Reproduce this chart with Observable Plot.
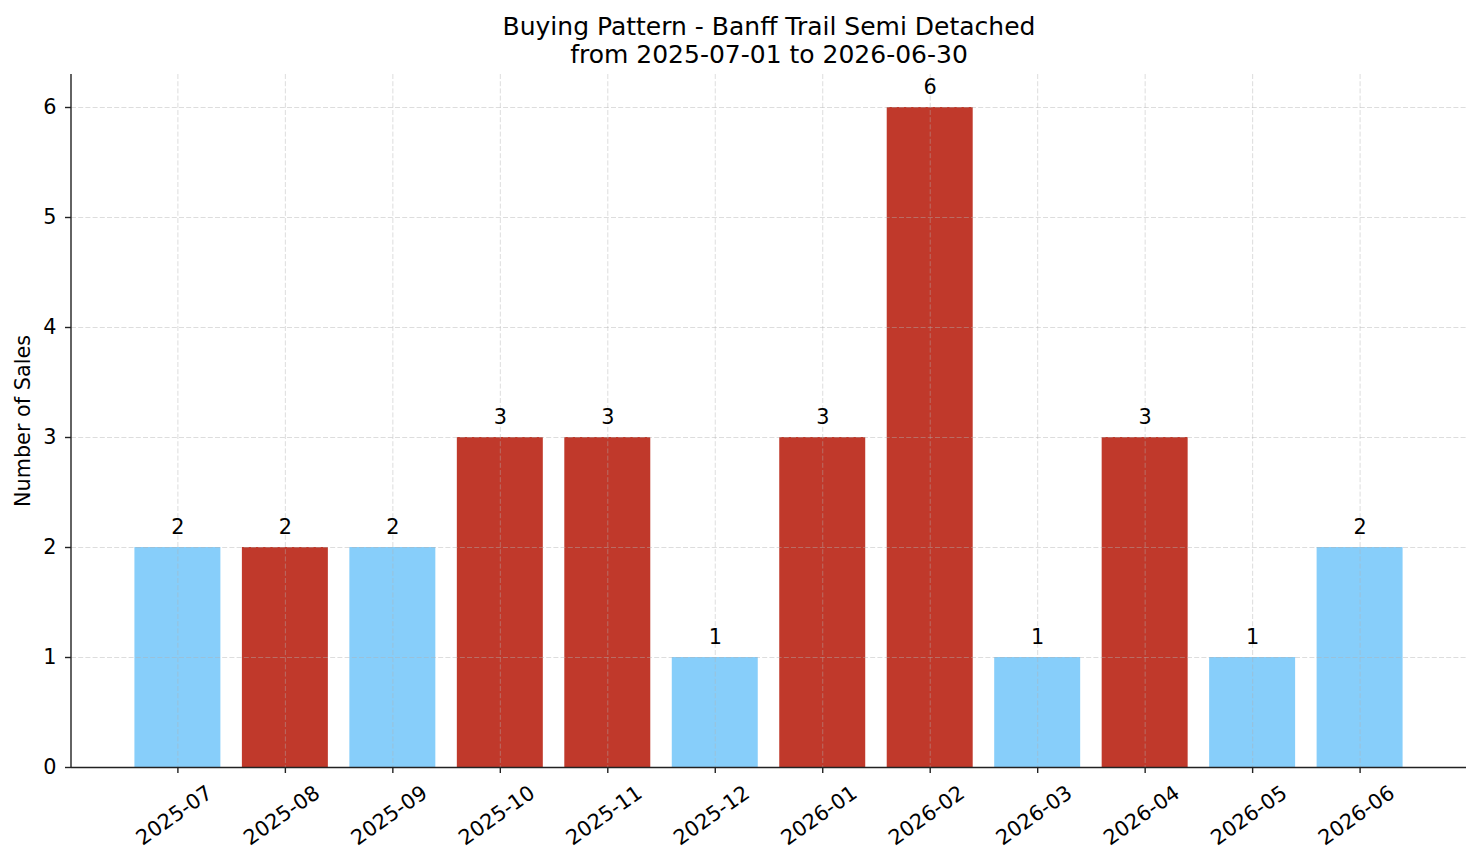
<!DOCTYPE html>
<html>
<head>
<meta charset="utf-8">
<script src="https://cdn.jsdelivr.net/npm/d3@7"></script>
<script src="https://cdn.jsdelivr.net/npm/@observablehq/plot@0.6"></script>
<style>
  html, body { margin: 0; padding: 0; background: #fff; }
  #chart svg { display: block; }
</style>
</head>
<body>
<div id="chart"></div>
<script>
// Monthly sales counts, Banff Trail semi-detached
const months = ["2025-07", "2025-08", "2025-09", "2025-10", "2025-11", "2025-12",
                "2026-01", "2026-02", "2026-03", "2026-04", "2026-05", "2026-06"];
const sales = [2, 2, 2, 3, 3, 1, 3, 6, 1, 3, 1, 2];
// Market phase for each month: "hot" months drawn red, "cool" months light blue
const phase = ["cool", "hot", "cool", "hot", "hot", "cool",
               "hot", "hot", "cool", "hot", "cool", "cool"];
const yTicks = [0, 1, 2, 3, 4, 5, 6];
const titleLines = ["Buying Pattern - Banff Trail Semi Detached", "from 2025-07-01 to 2026-06-30"];

const data = months.map((m, i) => ({month: m, sales: sales[i], phase: phase[i]}));

const font = "DejaVu Sans, sans-serif";
const grid = {stroke: "#b0b0b0", strokeOpacity: 0.55, strokeWidth: 0.8, strokeDasharray: "5,2.2"};

// left spine, drawn along the left edge of the plotting frame
function leftSpine(index, scales, values, dims) {
  return d3.create("svg:line")
    .attr("x1", dims.marginLeft).attr("x2", dims.marginLeft)
    .attr("y1", dims.marginTop).attr("y2", dims.height - dims.marginBottom)
    .attr("stroke", "#222").attr("stroke-width", 1.4)
    .node();
}

const chart = Plot.plot({
  width: 1481,
  height: 863,
  marginLeft: 71,
  marginRight: 15,
  marginTop: 74,
  marginBottom: 96,
  style: {fontFamily: font, fontSize: "20.8px", color: "#000", background: "#fff"},
  x: {type: "band", domain: months, paddingInner: 0.2, paddingOuter: 0.59, align: 0.5, round: false, axis: null},
  y: {domain: [0, 6.3], axis: null},
  color: {domain: ["cool", "hot"], range: ["#87CEFA", "#C0392B"]},
  marks: [
    Plot.barY(data, {x: "month", y: "sales", fill: "phase"}),
    // dashed grid on top of the bars
    Plot.gridY(yTicks, {...grid}),
    Plot.gridX(months, {...grid}),
    // spines
    Plot.ruleY([0], {stroke: "#222", strokeWidth: 1.4}),
    leftSpine,
    // y axis ticks and labels
    Plot.axisY(yTicks, {tickSize: 6, tickPadding: 9, stroke: "#222", strokeWidth: 1.4, fontSize: 20.8,
      tickFormat: d3.format("d"), label: null, anchor: "left"}),
    // x axis ticks
    Plot.axisX(months, {tickSize: 6, tickFormat: () => "", stroke: "#222", strokeWidth: 1.4, label: null, anchor: "bottom"}),
    // rotated month labels
    Plot.text(months, {x: d => d, frameAnchor: "bottom", dx: -3.5, dy: 48, rotate: -35,
      textAnchor: "middle", lineAnchor: "middle", fontSize: 20.8, fill: "#000"}),
    // value labels above bars
    Plot.text(data, {x: "month", y: "sales", text: d => String(d.sales), dy: -20,
      lineAnchor: "middle", fontSize: 20.8, fill: "#000"}),
    // y axis title
    Plot.text(["Number of Sales"], {frameAnchor: "left", dx: -48, rotate: -90,
      textAnchor: "middle", lineAnchor: "middle", fontSize: 20.8, fill: "#000"}),
    // two-line title
    Plot.text([titleLines[0]], {frameAnchor: "top", dy: -47.5, lineAnchor: "middle", fontSize: 25, fill: "#000"}),
    Plot.text([titleLines[1]], {frameAnchor: "top", dy: -19.5, lineAnchor: "middle", fontSize: 25, fill: "#000"})
  ]
});

document.getElementById("chart").appendChild(chart);
</script>
</body>
</html>
